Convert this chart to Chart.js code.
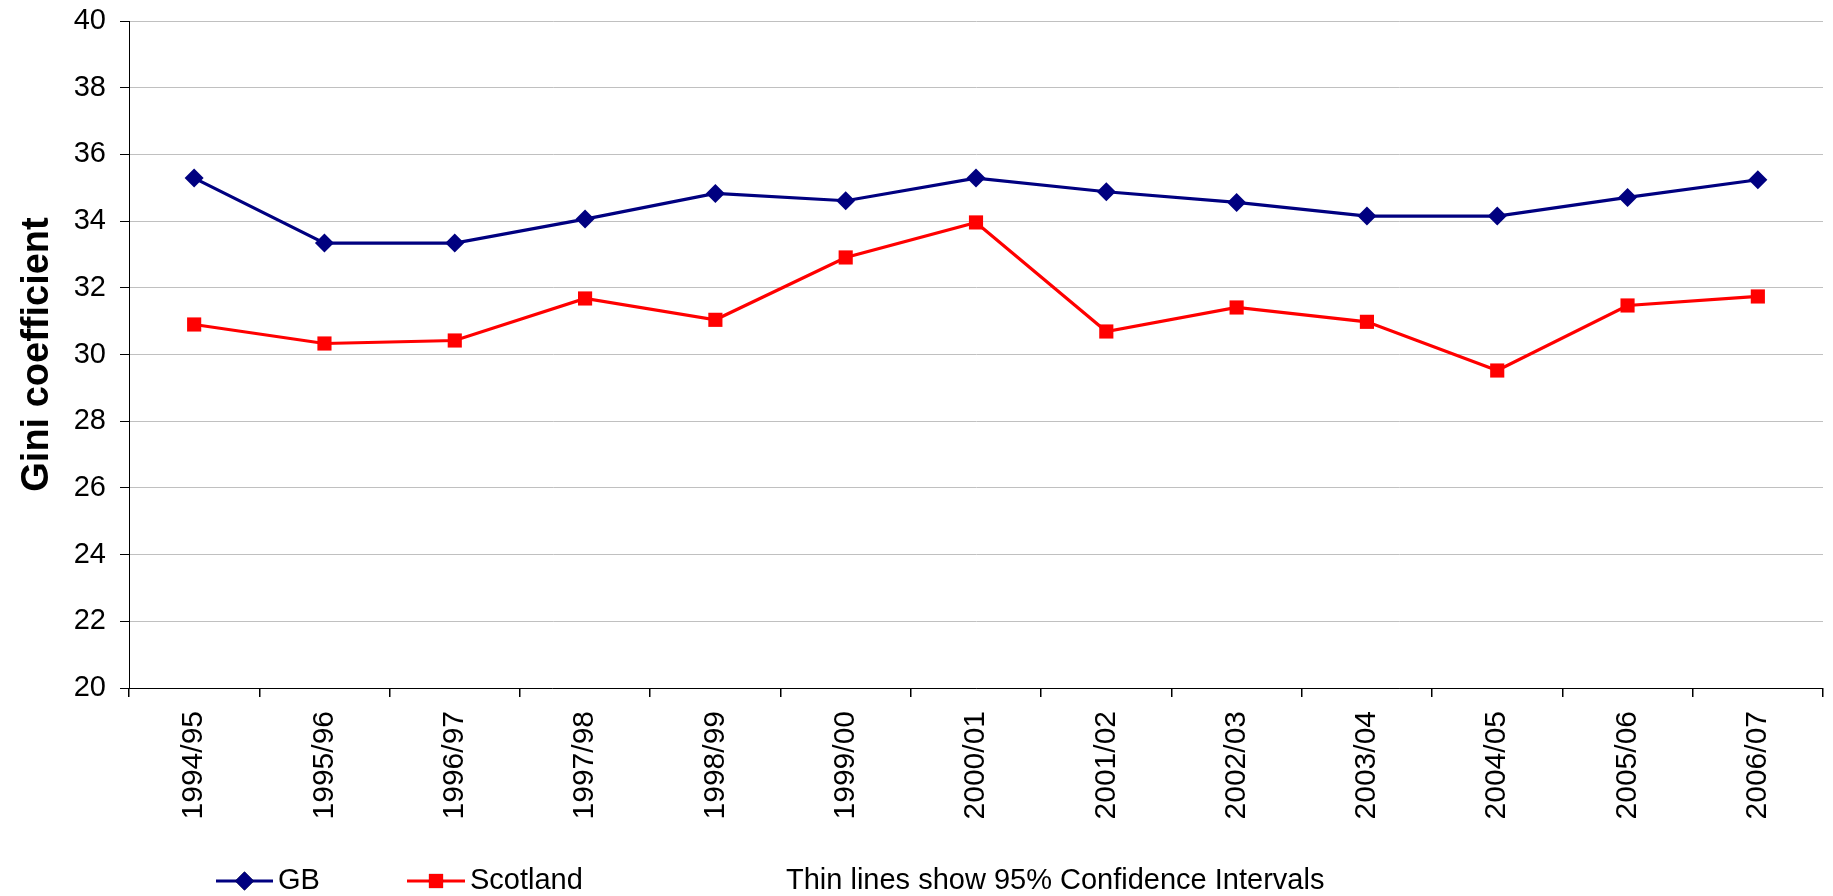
<!DOCTYPE html>
<html>
<head>
<meta charset="utf-8">
<title>Gini coefficient</title>
<script src="https://cdn.jsdelivr.net/npm/chart.js@4.4.1/dist/chart.umd.min.js"></script>
<style>
    html, body { margin: 0; padding: 0; background: #fff; }
    #wrap { width: 1833px; height: 896px; position: relative; }
</style>
</head>
<body>
<div id="wrap"><canvas id="giniChart"></canvas></div>
<script>
const years = ['1994/95', '1995/96', '1996/97', '1997/98', '1998/99', '1999/00', '2000/01',
    '2001/02', '2002/03', '2003/04', '2004/05', '2005/06', '2006/07'];
const gbValues = [35.29, 33.34, 33.34, 34.06, 34.83, 34.61, 35.29, 34.88, 34.56, 34.15, 34.15, 34.71, 35.24];
const scotlandValues = [30.90, 30.33, 30.42, 31.68, 31.04, 32.91, 33.96, 30.69, 31.41, 30.98, 29.52, 31.47, 31.74];
const yTicks = [20, 22, 24, 26, 28, 30, 32, 34, 36, 38, 40];
const noteText = 'Thin lines show 95% Confidence Intervals';

const fontFamily = '"Liberation Sans", Arial, sans-serif';

// legend drawn as line + marker like the original spreadsheet chart
const bottomLegend = {
    id: 'bottomLegend',
    afterDraw: function (chart) {
        const ctx = chart.ctx;
        const y = 881;
        const items = [
            { ds: chart.data.datasets[0], x1: 216, x2: 273 },
            { ds: chart.data.datasets[1], x1: 407, x2: 465 }
        ];
        ctx.save();
        ctx.font = '29px ' + fontFamily;
        ctx.textBaseline = 'middle';
        ctx.fillStyle = '#000';
        items.forEach(function (item) {
            ctx.strokeStyle = item.ds.borderColor;
            ctx.lineWidth = item.ds.borderWidth;
            ctx.beginPath();
            ctx.moveTo(item.x1, y);
            ctx.lineTo(item.x2, y);
            ctx.stroke();
            Chart.helpers.drawPoint(ctx, {
                pointStyle: item.ds.pointStyle,
                radius: item.ds.pointRadius,
                borderWidth: 0,
                rotation: 0
            }, (item.x1 + item.x2) / 2, y);
            ctx.fillStyle = item.ds.pointBackgroundColor;
            ctx.fill();
            ctx.fillStyle = '#000';
            ctx.fillText(item.ds.label, item.x2 + 5, y);
        });
        ctx.fillText(noteText, 786, y);
        ctx.restore();
    }
};

const chart = new Chart(document.getElementById('giniChart'), {
    type: 'line',
    data: {
        labels: years,
        datasets: [
            {
                label: 'GB',
                data: gbValues,
                borderColor: '#000080',
                backgroundColor: '#000080',
                borderWidth: 3.2,
                pointStyle: 'rectRot',
                pointRadius: 9.5,
                pointHoverRadius: 9.5,
                pointBackgroundColor: '#000080',
                pointBorderWidth: 0,
                tension: 0
            },
            {
                label: 'Scotland',
                data: scotlandValues,
                borderColor: '#ff0000',
                backgroundColor: '#ff0000',
                borderWidth: 3.2,
                pointStyle: 'rect',
                pointRadius: 10,
                pointHoverRadius: 10,
                pointBackgroundColor: '#ff0000',
                pointBorderWidth: 0,
                tension: 0
            }
        ]
    },
    options: {
        responsive: true,
        maintainAspectRatio: false,
        animation: false,
        layout: {
            padding: { top: 21, right: 6, left: 0, bottom: 0 }
        },
        plugins: {
            legend: { display: false },
            tooltip: { enabled: false }
        },
        scales: {
            x: {
                offset: true,
                afterFit: function (scale) {
                    scale.height = 208;
                },
                border: { color: '#000', width: 1 },
                grid: {
                    offset: true,
                    drawOnChartArea: true,
                    tickLength: 9,
                    tickColor: '#000',
                    color: function (c) {
                        return c.index === years.length ? '#a0a0a0' : 'rgba(0,0,0,0)';
                    },
                    lineWidth: 1.5
                },
                ticks: {
                    minRotation: 90,
                    maxRotation: 90,
                    padding: 14,
                    color: '#000',
                    font: { family: fontFamily, size: 30 }
                }
            },
            y: {
                min: yTicks[0],
                max: yTicks[yTicks.length - 1],
                afterFit: function (scale) {
                    scale.width = 129;
                    scale.paddingTop = 0;
                    scale.paddingBottom = 0;
                },
                afterBuildTicks: function (scale) {
                    scale.ticks = yTicks.map(v => ({ value: v }));
                },
                border: { color: '#000', width: 1 },
                grid: {
                    color: '#c0c0c0',
                    tickColor: '#000',
                    tickLength: 9,
                    lineWidth: 1
                },
                ticks: {
                    padding: 14,
                    color: '#000',
                    font: { family: fontFamily, size: 29 }
                },
                title: {
                    display: true,
                    text: 'Gini coefficient',
                    color: '#000',
                    padding: { top: 15, bottom: 0 },
                    font: { family: fontFamily, size: 38, weight: 'bold' }
                }
            }
        }
    },
    plugins: [bottomLegend]
});
</script>
</body>
</html>
